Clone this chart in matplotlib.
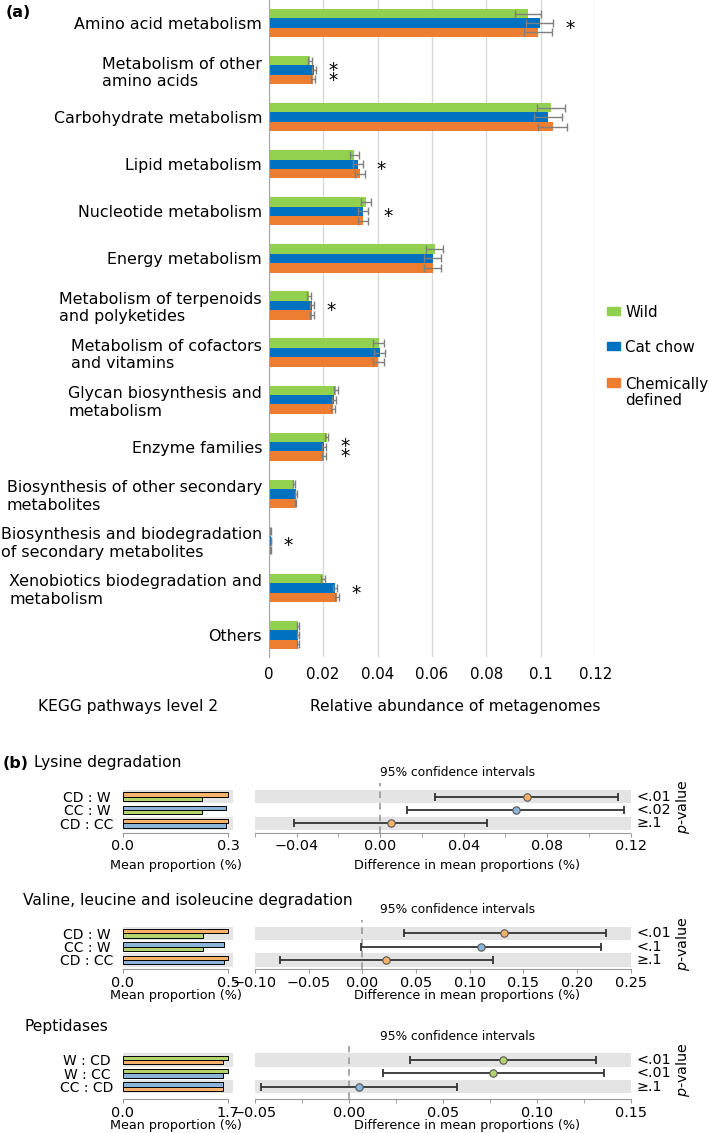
import numpy as np
import matplotlib
matplotlib.use('Agg')
import matplotlib.pyplot as plt
from matplotlib.patches import Rectangle
from matplotlib.ticker import MultipleLocator, FuncFormatter, NullFormatter

plt.rcParams['font.family'] = ['DejaVu Sans']

# ---------------- Panel (a) data ----------------
categories = [
    "Amino acid metabolism",
    "Metabolism of other\namino acids",
    "Carbohydrate metabolism",
    "Lipid metabolism",
    "Nucleotide metabolism",
    "Energy metabolism",
    "Metabolism of terpenoids\nand polyketides",
    "Metabolism of cofactors\nand vitamins",
    "Glycan biosynthesis and\nmetabolism",
    "Enzyme families",
    "Biosynthesis of other secondary\nmetabolites",
    "Biosynthesis and biodegradation\nof secondary metabolites",
    "Xenobiotics biodegradation and\nmetabolism",
    "Others",
]
wild        = [0.0952, 0.0152, 0.1037, 0.0314, 0.0357, 0.0610, 0.0148, 0.0404, 0.0247, 0.0213, 0.0093, 0.0006, 0.0199, 0.0109]
wild_err    = [0.0048, 0.0007, 0.0052, 0.0017, 0.0018, 0.0031, 0.0007, 0.0020, 0.0007, 0.0006, 0.0003, 0.0001, 0.0007, 0.0004]
catchow     = [0.0995, 0.0167, 0.1026, 0.0328, 0.0346, 0.0602, 0.0158, 0.0408, 0.0240, 0.0203, 0.0100, 0.0008, 0.0245, 0.0107]
catchow_err = [0.0051, 0.0007, 0.0053, 0.0018, 0.0018, 0.0032, 0.0008, 0.0020, 0.0007, 0.0006, 0.0003, 0.0001, 0.0007, 0.0004]
chemdef     = [0.0990, 0.0164, 0.1044, 0.0334, 0.0347, 0.0602, 0.0160, 0.0402, 0.0235, 0.0203, 0.0098, 0.0006, 0.0250, 0.0109]
chemdef_err = [0.0051, 0.0007, 0.0053, 0.0018, 0.0018, 0.0031, 0.0008, 0.0020, 0.0007, 0.0006, 0.0003, 0.0001, 0.0008, 0.0004]
n_stars     = [1, 2, 0, 1, 1, 0, 1, 0, 0, 2, 0, 1, 1, 0]
series_names = ["Wild", "Cat chow", "Chemically\ndefined"]
x_ticks_a = [0, 0.02, 0.04, 0.06, 0.08, 0.1, 0.12]

# ---------------- Panel (b) data ----------------
pathways = ["Lysine degradation",
            "Valine, leucine and isoleucine degradation",
            "Peptidases"]
mean_W  = [0.225, 0.378, 1.700]
mean_CC = [0.294, 0.481, 1.614]
mean_CD = [0.299, 0.500, 1.614]
pairs = [
    [("CD", "W"), ("CC", "W"), ("CD", "CC")],
    [("CD", "W"), ("CC", "W"), ("CD", "CC")],
    [("W", "CD"), ("W", "CC"), ("CC", "CD")],
]
diff_mean = [[0.0702, 0.0651, 0.0051], [0.1325, 0.1107, 0.0220], [0.0823, 0.0770, 0.0055]]
ci_low    = [[0.0262, 0.0128, -0.0412], [0.0386, -0.0010, -0.0770], [0.0324, 0.0182, -0.0468]]
ci_high   = [[0.1138, 0.1170, 0.0512], [0.2270, 0.2227, 0.1220], [0.1317, 0.1358, 0.0578]]
p_labels  = [["<.01", "<.02", "\u2265.1"], ["<.01", "<.1", "\u2265.1"], ["<.01", "<.01", "\u2265.1"]]
mean_axis_max = [0.3, 0.5, 1.7]
diff_xlim  = [(-0.06, 0.12), (-0.10, 0.25), (-0.05, 0.15)]
diff_major = [0.04, 0.05, 0.05]
diff_minor = [0.02, 0.05, 0.025]

# ---------------- Figure ----------------
W, H = 709, 1133
fig = plt.figure(figsize=(W / 100, H / 100), dpi=100)


def px_axes(x0, y0, x1, y1):
    return fig.add_axes([x0 / W, 1 - y1 / H, (x1 - x0) / W, (y1 - y0) / H])


def fx(x):
    return x / W


def fy(y):
    return 1 - y / H


# ---------------- Panel (a) ----------------
cols_a = ['#92D050', '#0070C0', '#ED7D31']
ax = px_axes(268.7, 0, 595.3, 657)
n = len(categories)
yy = np.arange(n)
bh = 0.2
ekw = dict(ecolor='#7F7F7F', elinewidth=1, capsize=2.6, capthick=1)
series = [(wild, wild_err), (catchow, catchow_err), (chemdef, chemdef_err)]
for k, (vals, errs) in enumerate(series):
    ax.barh(yy + (k - 1) * bh, vals, height=bh, color=cols_a[k], xerr=errs,
            error_kw=ekw, zorder=2)
ax.set_xlim(0, 0.12)
ax.set_ylim(n - 0.534, -0.4885)
ax.set_xticks(x_ticks_a)
ax.set_xticklabels(['%g' % v for v in x_ticks_a], fontsize=10.8)
ax.set_yticks(yy)
ax.set_yticklabels(categories, fontsize=11.4)
for t in ax.get_yticklabels():
    t.set_multialignment('left')
ax.tick_params(axis='x', length=0, pad=7.0)
ax.tick_params(axis='y', length=0, pad=4.8)
ax.xaxis.grid(True, color='#D9D9D9', lw=1)
ax.set_axisbelow(True)
for s in ['top', 'right', 'bottom']:
    ax.spines[s].set_visible(False)
ax.spines['left'].set_color('#A6A6A6')

# significance asterisks
upper = np.max([np.array(v) + np.array(e) for v, e in series], axis=0)
for i, ns in enumerate(n_stars):
    if ns == 0:
        continue
    offs = [0.0] if ns == 1 else [-0.105, 0.105]
    for o in offs:
        ax.annotate('*', xy=(upper[i] + 0.0062, i + o), xytext=(0, -7.6),
                    textcoords='offset points', ha='center', va='baseline',
                    fontsize=13.5, color='black')

# legend (manual)
leg_y = [311, 346, 382.5]
leg_fs = 10.8
for k, name in enumerate(series_names):
    fig.add_artist(Rectangle((fx(607), fy(leg_y[k] + 4)), 13 / W, 8 / H,
                             transform=fig.transFigure, color=cols_a[k]))
    fig.text(fx(625), fy(leg_y[k] - 0.395 * leg_fs / 0.72), name, fontsize=leg_fs,
             ha='left', va='top', linespacing=1.12)

fig.text(fx(6), fy(12.5), '(a)', fontweight='bold', fontsize=11.5, ha='left', va='center')
fig.text(fx(128.5), fy(706), 'KEGG pathways level 2', fontsize=11.2, ha='center', va='center')
fig.text(fx(455), fy(706), 'Relative abundance of metagenomes', fontsize=11.2, ha='center', va='center')

# ---------------- Panel (b) ----------------
col_b = {'CD': '#F6B26B', 'W': '#B3D46E', 'CC': '#8CB4D8'}
band_col = '#E4E4E4'
rows_band_top = [790, 926.7, 1053.3]
rows_title_y = [763, 900, 1026.7]
rows_ci_y = [773, 909.3, 1036.7]
rows_axis_y = [833, 969.3, 1099.3]
rows_xlab_y = [866, 995.5, 1125.5]
pitch = 13.3
extra_top = 7

fig.text(fx(3), fy(763), '(b)', fontweight='bold', fontsize=11.5, ha='left', va='center')
title_x = [34, 23.5, 25]

for r in range(3):
    means = {'W': mean_W[r], 'CC': mean_CC[r], 'CD': mean_CD[r]}
    bt = rows_band_top[r]
    ay = rows_axis_y[r]
    y_top = -0.5 - extra_top / pitch
    y_bot = 2.5 + (ay - bt - 3 * pitch) / pitch

    # left: mean proportions
    axl = px_axes(123, bt - extra_top, 233, ay)
    for j in (0, 2):
        axl.axhspan(j - 0.5, j + 0.5, color=band_col, lw=0, zorder=0)
    for j, (a, b) in enumerate(pairs[r]):
        axl.barh(j - 0.165, means[a], height=0.33, color=col_b[a],
                 edgecolor='black', lw=0.7, zorder=2)
        axl.barh(j + 0.165, means[b], height=0.33, color=col_b[b],
                 edgecolor='black', lw=0.7, zorder=2)
    mx = mean_axis_max[r]
    axl.set_xlim(0, mx * 1.045)
    axl.set_ylim(y_bot, y_top)
    axl.set_xticks([0, mx])
    axl.set_xticklabels(['%.1f' % 0, '%.1f' % mx], fontsize=10.4)
    axl.set_yticks([0, 1, 2])
    axl.set_yticklabels(['%s : %s' % p for p in pairs[r]], fontsize=10)
    for t in axl.get_yticklabels():
        t.set_horizontalalignment('center')
    axl.tick_params(axis='y', length=0, pad=26)
    axl.tick_params(axis='x', length=3, color='#999999', pad=1.5)
    for s in ['top', 'right', 'left']:
        axl.spines[s].set_visible(False)
    axl.spines['bottom'].set_color('#999999')
    axl.spines['bottom'].set_bounds(0, mx)
    axl.patch.set_alpha(0)

    # right: differences with confidence intervals
    axr = px_axes(255, bt - extra_top, 630.5, ay)
    for j in (0, 2):
        axr.axhspan(j - 0.5, j + 0.5, color=band_col, lw=0, zorder=0)
    axr.axvline(0, color='#999999', lw=1.2, ls=(0, (4, 3)), zorder=1)
    for j, (a, b) in enumerate(pairs[r]):
        d = diff_mean[r][j]
        lo = ci_low[r][j]
        hi = ci_high[r][j]
        axr.errorbar([d], [j], xerr=[[d - lo], [hi - d]], fmt='none',
                     ecolor='#333333', elinewidth=1.3, capsize=2.6,
                     capthick=1.3, zorder=3)
        axr.plot([d], [j], 'o', ms=5.3, mfc=col_b[a], mec='#555555',
                 mew=0.8, zorder=4)
        fig.text(fx(636), fy(bt + (j + 0.5) * pitch), p_labels[r][j],
                 fontsize=10.3, ha='left', va='center')
    axr.set_xlim(*diff_xlim[r])
    axr.set_ylim(y_bot, y_top)
    axr.xaxis.set_major_locator(MultipleLocator(diff_major[r]))
    axr.xaxis.set_minor_locator(MultipleLocator(diff_minor[r]))
    axr.xaxis.set_major_formatter(FuncFormatter(
        lambda v, p: f'{round(v, 4) + 0.0:.2f}'.replace('-', '\u2212')))
    axr.xaxis.set_minor_formatter(NullFormatter())
    axr.tick_params(axis='x', which='both', length=3, color='#999999',
                    pad=1.5, labelsize=10.4)
    axr.set_yticks([])
    for s in ['top', 'right', 'left']:
        axr.spines[s].set_visible(False)
    axr.spines['bottom'].set_color('#999999')
    axr.patch.set_alpha(0)

    # texts
    fig.text(fx(title_x[r]), fy(rows_title_y[r]), pathways[r], fontsize=11.2,
             ha='left', va='center')
    fig.text(fx(458), fy(rows_ci_y[r]), '95% confidence intervals',
             fontsize=8.8, ha='center', va='center')
    fig.text(fx(176), fy(rows_xlab_y[r]), 'Mean proportion (%)',
             fontsize=9.2, ha='center', va='center')
    fig.text(fx(467), fy(rows_xlab_y[r]), 'Difference in mean proportions (%)',
             fontsize=9.2, ha='center', va='center')
    fig.text(fx(683.5), fy(bt + 1.5 * pitch - 3), r'$p$-value', fontsize=10.3,
             rotation=90, ha='center', va='center')

fig.savefig('out.png', dpi=100)
